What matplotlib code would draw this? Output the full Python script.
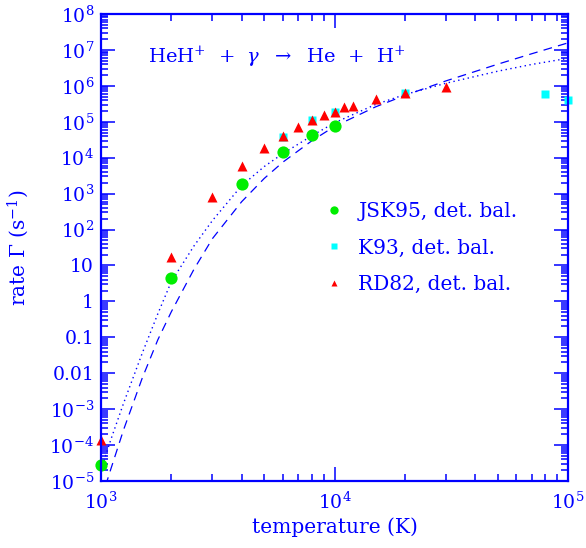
import matplotlib
matplotlib.use("Agg")
import matplotlib.pyplot as plt
from matplotlib.lines import Line2D
from matplotlib.ticker import LogLocator, FixedLocator, FixedFormatter, NullFormatter

plt.rcParams['font.family'] = ['DejaVu Serif']
plt.rcParams['mathtext.fontset'] = 'dejavuserif'

blue = '#0000ff'

# JSK95, det. bal.
jsk_T = [1000, 2000, 4000, 6000, 8000, 10000]
jsk_rate = [2.8e-5, 4.4, 1.9e3, 1.47e4, 4.3e4, 7.6e4]

# K93, det. bal.
k93_T = [6000, 8000, 10000, 20000, 80000, 100000]
k93_rate = [3.8e4, 1.12e5, 1.9e5, 6.4e5, 5.8e5, 4.0e5]

# RD82, det. bal.
rd_T = [1000, 2000, 3000, 4000, 5000, 6000, 7000, 8000, 9000, 10000,
        11000, 12000, 15000, 20000, 30000]
rd_rate = [1.4e-4, 16.9, 820, 6.0e3, 1.9e4, 4.0e4, 7.3e4, 1.12e5, 1.54e5,
           1.9e5, 2.5e5, 2.8e5, 4.3e5, 6.4e5, 9.1e5]

# fitted curves
curve_T = [1000, 1100, 1250, 1500, 1750, 2000, 2500, 3000, 4000, 5000, 6000,
           8000, 10000, 15000, 20000, 30000, 50000, 70000, 100000]
dashed_rate = [2.96e-6, 2.09e-5, 2.70e-4, 7.19e-3, 0.0845, 0.513, 7.80, 55.8,
               592, 2640, 7450, 2.96e4, 7.4e4, 2.6e5, 5.4e5, 1.37e6, 4.0e6,
               7.83e6, 1.57e7]
dotted_rate = [2.0e-5, 1.38e-4, 1.48e-3, 0.0355, 0.447, 3.55, 34.8, 178, 1660,
               5660, 1.29e4, 4.09e4, 9.33e4, 3.03e5, 5.70e5, 1.18e6, 2.55e6,
               3.94e6, 5.83e6]

ytick_vals = [1e-5, 1e-4, 1e-3, 1e-2, 1e-1, 1, 10, 1e2, 1e3, 1e4, 1e5, 1e6, 1e7, 1e8]
ytick_labels = [r'$10^{-5}$', r'$10^{-4}$', r'$10^{-3}$', '0.01', '0.1', '1', '10',
                r'$10^{2}$', r'$10^{3}$', r'$10^{4}$', r'$10^{5}$', r'$10^{6}$',
                r'$10^{7}$', r'$10^{8}$']
xtick_vals = [1e3, 1e4, 1e5]
xtick_labels = [r'$10^{3}$', r'$10^{4}$', r'$10^{5}$']

fig = plt.figure(figsize=(5.86, 5.48), dpi=100)
ax = fig.add_axes([0.1724, 0.1223, 0.7969, 0.8522])

ax.plot(curve_T, dashed_rate, color=blue, lw=0.9, ls=(0, (7, 5)))
ax.plot(curve_T, dotted_rate, color=blue, lw=1.0, ls=(0, (1, 2.5)))

ax.plot(jsk_T, jsk_rate, 'o', color='#00ee00', ms=8.8, mec='none', clip_on=False)
ax.plot(k93_T, k93_rate, 's', color='#00ffff', ms=6, mec='none', clip_on=False)
ax.plot(rd_T, rd_rate, '^', color='#ff0000', ms=7.5, mec='none', clip_on=False)

ax.set_xscale('log')
ax.set_yscale('log')
ax.set_xlim(1e3, 1e5)
ax.set_ylim(1e-5, 1e8)

ax.yaxis.set_major_locator(FixedLocator(ytick_vals))
ax.yaxis.set_major_formatter(FixedFormatter(ytick_labels))
ax.xaxis.set_major_locator(FixedLocator(xtick_vals))
ax.xaxis.set_major_formatter(FixedFormatter(xtick_labels))
ax.xaxis.set_minor_locator(LogLocator(base=10, subs=range(2, 10), numticks=20))
ax.yaxis.set_minor_locator(LogLocator(base=10, subs=range(2, 10), numticks=30))
ax.xaxis.set_minor_formatter(NullFormatter())
ax.yaxis.set_minor_formatter(NullFormatter())

ax.tick_params(which='both', direction='in', top=True, right=True, color=blue,
               labelcolor=blue, labelsize=13.5, width=1.1)
ax.tick_params(which='major', length=10)
ax.tick_params(which='minor', length=5)
ax.tick_params(axis='x', pad=8)
ax.tick_params(axis='y', pad=5)
for s in ax.spines.values():
    s.set_color(blue)
    s.set_linewidth(1.6)

ax.set_xlabel('temperature (K)', color=blue, fontsize=14.5)
ax.set_ylabel(r'rate $\Gamma$ (s$^{-1}$)', color=blue, fontsize=14.5)
ax.xaxis.set_label_coords(0.5, -0.077)
ax.yaxis.set_label_coords(-0.15, 0.5)

ax.text(0.10, 0.908, r'HeH$^{+}$  +  $\gamma$  $\rightarrow$  He  +  H$^{+}$',
        transform=ax.transAxes, color=blue, fontsize=14, va='center', ha='left')

handles = [
    Line2D([], [], marker='o', ls='none', color='#00ee00', mec='none', ms=6),
    Line2D([], [], marker='s', ls='none', color='#00ffff', mec='none', ms=4.5),
    Line2D([], [], marker='^', ls='none', color='#ff0000', mec='none', ms=4.5),
]
labels = ['JSK95, det. bal.', 'K93, det. bal.', 'RD82, det. bal.']
leg = ax.legend(handles, labels, loc='upper left', bbox_to_anchor=(0.4775, 0.597),
                frameon=False, fontsize=14.5, handlelength=1.0, handletextpad=0.7,
                labelspacing=0.86, borderpad=0, borderaxespad=0)
for t in leg.get_texts():
    t.set_color(blue)

fig.savefig('out.png', dpi=100)
